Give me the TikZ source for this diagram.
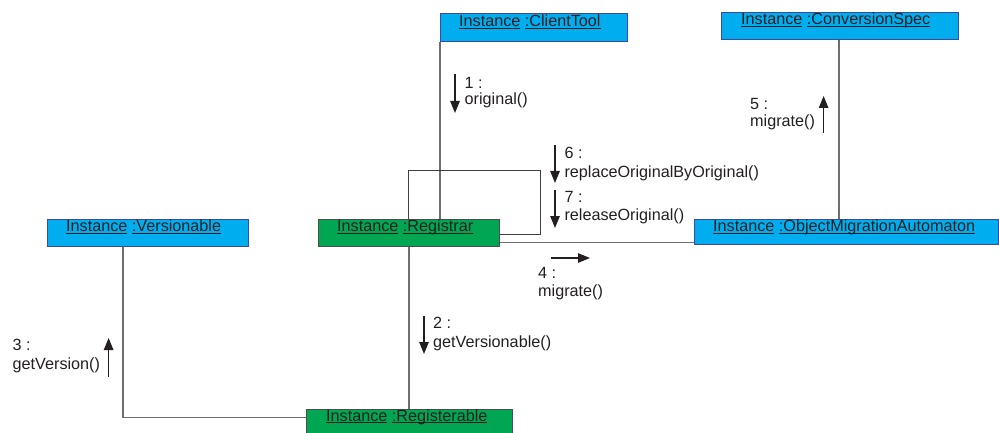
\documentclass[tikz,border=0pt]{standalone}
\usepackage{fontspec}
\setmainfont{Liberation Sans}
\usetikzlibrary{arrows.meta}
\definecolor{objblue}{HTML}{00AEEF}
\definecolor{objgreen}{HTML}{00A651}
\definecolor{blueedge}{HTML}{3B4BA0}
\definecolor{greenedge}{HTML}{4D4D4D}
\definecolor{ink}{HTML}{231F20}
\definecolor{wire}{HTML}{6D6E71}
% underline at a fixed depth, independent of descenders
\newcommand{\insul}[1]{\setbox0\hbox{#1}\rlap{\rule[-2.4pt]{\wd0}{1.1pt}}\box0\relax}
\begin{document}
\begin{tikzpicture}[x=1pt,y=-1pt,
  font=\fontsize{16.2}{18.5}\selectfont, text=ink,
  objbox/.style={rectangle, anchor=north west, inner sep=0pt, line width=1pt},
  bluebox/.style={objbox, fill=objblue, draw=blueedge},
  greenbox/.style={objbox, fill=objgreen, draw=greenedge},
  objname/.style={anchor=base west, inner sep=0pt},
  life/.style={draw=wire, line width=1.3pt},
  selfloop/.style={draw=ink!85, line width=1pt},
  msg/.style={draw=ink, line width=1.2pt, -{Triangle[length=12pt,width=9.5pt]}},
  msgtext/.style={anchor=base west, inner sep=0pt}]
\useasboundingbox (0,0) rectangle (999,433);

% object boxes (placed as empty frames first, so links can refer to them)
\path
  node[bluebox, minimum width=187pt, minimum height=27.4pt] (ct) at (440,13.3) {}
  node[bluebox, minimum width=236.5pt, minimum height=27pt] (cs) at (721,12.3) {}
  node[bluebox, minimum width=201pt, minimum height=26.5pt] (ve) at (46.5,219) {}
  node[greenbox, minimum width=181pt, minimum height=27pt] (rg) at (318,219) {}
  node[bluebox, minimum width=304pt, minimum height=24.5pt] (oma) at (694,219) {}
  node[greenbox, minimum width=206pt, minimum height=26pt] (rb) at (306,409) {};

% links between objects
\draw[life] (ct.south west) -- (ct.south west |- rg.north);
\draw[life] (cs.south -| 839,0) -- (oma.north -| 839,0);
\draw[selfloop] (rg.north -| 408,0) -- (408,171) -- (540,171) -- (540,234.3) -- (rg.east |- 0,234.3);
\draw[life] (rg.east |- 0,242.7) -- (oma.west |- 0,242.7);
\draw[life] (rg.south -| 409,0) -- (rb.north -| 409,0);
\draw[life] (ve.south -| 123,0) |- (rb.west |- 0,417.3);

% redraw boxes on top of the link ends
\path
  node[bluebox, minimum width=187pt, minimum height=27.4pt] at (440,13.3) {}
  node[bluebox, minimum width=236.5pt, minimum height=27pt] at (721,12.3) {}
  node[bluebox, minimum width=201pt, minimum height=26.5pt] at (46.5,219) {}
  node[greenbox, minimum width=181pt, minimum height=27pt] at (318,219) {}
  node[bluebox, minimum width=304pt, minimum height=24.5pt] at (694,219) {}
  node[greenbox, minimum width=206pt, minimum height=26pt] at (306,409) {};

% object names
\node[objname] (ct-name) at (459,26.5) {\insul{Instance} \insul{:ClientTool}};
\node[objname] (cs-name) at (741,25) {\insul{Instance} \insul{:ConversionSpec}};
\node[objname] (ve-name) at (66,231.2) {\insul{Instance} \insul{:Versionable}};
\node[objname] (rg-name) at (337,231.5) {\insul{Instance} \insul{:Registrar}};
\node[objname] (oma-name) at (713,231.7) {\insul{Instance} \insul{:ObjectMigrationAutomaton}};
\node[objname] (rb-name) at (326,421) {\insul{Instance} \insul{:Registerable}};

% messages
\draw[msg] (455,74) -- (455,113);
\node[msgtext] (m1a) at (464.5,88.8) {1 :};
\node[msgtext] (m1b) at (464.5,104.2) {original()};

\draw[msg] (424,316) -- (424,354);
\node[msgtext] (m2a) at (433,328.8) {2 :};
\node[msgtext] (m2b) at (433,347.2) {getVersionable()};

\draw[msg] (108.6,377) -- (108.6,338);
\node[msgtext] (m3a) at (12.5,350.8) {3 :};
\node[msgtext] (m3b) at (12.5,369.2) {getVersion()};

\draw[msg] (551,258) -- (590,258);
\node[msgtext] (m4a) at (538,278.8) {4 :};
\node[msgtext] (m4b) at (538,296.2) {migrate()};

\draw[msg] (823.6,133) -- (823.6,96);
\node[msgtext] (m5a) at (750,109.8) {5 :};
\node[msgtext] (m5b) at (750,126.2) {migrate()};

\draw[msg] (555,145) -- (555,183);
\node[msgtext] (m6a) at (564.3,158.8) {6 :};
\node[msgtext] (m6b) at (564.3,177.2) {replaceOriginalByOriginal()};

\draw[msg] (555,190) -- (555,228);
\node[msgtext] (m7a) at (564.3,202.8) {7 :};
\node[msgtext] (m7b) at (564.3,220.2) {releaseOriginal()};
\end{tikzpicture}
\end{document}
